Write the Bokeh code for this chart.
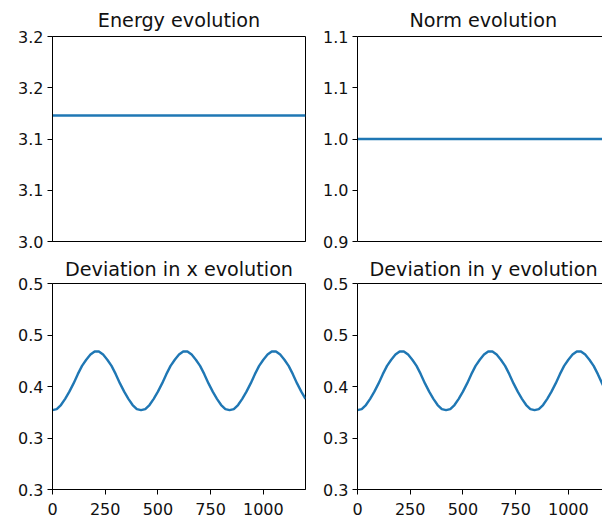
from bokeh.plotting import figure
from bokeh.models import Range1d, FixedTicker, LinearAxis
from bokeh.layouts import row, column
from bokeh.embed import file_html
from bokeh.resources import INLINE

# ---- data ----
energy_time = [0, 1200]
energy = [3.123, 3.123]

norm_time = [0, 1200]
norm = [1.0, 1.0]

time = [0, 20, 40, 60, 80, 100, 120, 140, 160, 180, 200, 220, 240, 260, 280,
        300, 320, 340, 360, 380, 400, 420, 440, 460, 480, 500, 520, 540, 560,
        580, 600, 620, 640, 660, 680, 700, 720, 740, 760, 780, 800, 820, 840,
        860, 880, 900, 920, 940, 960, 980, 1000, 1020, 1040, 1060, 1080, 1100,
        1120, 1140, 1160, 1180, 1200]

dev_x = [0.377, 0.378, 0.382, 0.388, 0.395, 0.403, 0.412, 0.420, 0.426, 0.431,
         0.434, 0.434, 0.431, 0.426, 0.420, 0.412, 0.403, 0.395, 0.388, 0.382,
         0.378,
         0.377, 0.378, 0.382, 0.388, 0.395, 0.403, 0.412, 0.420, 0.426, 0.431,
         0.434, 0.434, 0.431, 0.426, 0.420, 0.412, 0.403, 0.395, 0.388, 0.382,
         0.378,
         0.377, 0.378, 0.382, 0.388, 0.395, 0.403, 0.412, 0.420, 0.426, 0.431,
         0.434, 0.434, 0.431, 0.426, 0.420, 0.412, 0.403, 0.395, 0.388]

dev_y = [0.377, 0.378, 0.382, 0.388, 0.395, 0.403, 0.412, 0.420, 0.426, 0.431,
         0.434, 0.434, 0.431, 0.426, 0.420, 0.412, 0.403, 0.395, 0.388, 0.382,
         0.378,
         0.377, 0.378, 0.382, 0.388, 0.395, 0.403, 0.412, 0.420, 0.426, 0.431,
         0.434, 0.434, 0.431, 0.426, 0.420, 0.412, 0.403, 0.395, 0.388, 0.382,
         0.378,
         0.377, 0.378, 0.382, 0.388, 0.395, 0.403, 0.412, 0.420, 0.426, 0.431,
         0.434, 0.434, 0.431, 0.426, 0.420, 0.412, 0.403, 0.395, 0.388]

x_ticks = [0, 250, 500, 750, 1000]
energy_ticks = [3.0, 3.05, 3.1, 3.15, 3.2]
energy_labels = ["3.0", "3.1", "3.1", "3.2", "3.2"]
norm_ticks = [0.9, 0.95, 1.0, 1.05, 1.1]
norm_labels = ["0.9", "1.0", "1.0", "1.1", "1.1"]
dev_ticks = [0.3, 0.35, 0.4, 0.45, 0.5]
dev_labels = ["0.3", "0.3", "0.4", "0.5", "0.5"]

LINE = "#1f77b4"
FONT = "DejaVu Sans"


def style_axis(ax):
    ax.major_label_text_font = FONT
    ax.major_label_text_font_size = "16px"
    ax.major_label_text_color = "#111111"
    ax.major_tick_out = 5
    ax.major_tick_in = 0
    ax.minor_tick_out = 0
    ax.minor_tick_in = 0
    ax.major_tick_line_color = "black"
    ax.axis_line_color = "black"
    ax.axis_line_width = 1
    ax.major_label_standoff = 4


def make(title, xr, yr, yticks, ylabels, left, top, title_offset):
    p = figure(frame_width=253 if left else 245,
               frame_height=205 if top else 206,
               x_range=Range1d(*xr), y_range=Range1d(*yr),
               output_backend="svg", toolbar_location=None,
               min_border_left=52 if left else 37,
               min_border_right=15 if left else 0,
               min_border_top=36 if top else 32,
               min_border_bottom=10 if top else 30,
               background_fill_color="white", border_fill_color="white")
    p.title.text = title
    p.title.text_font = FONT
    p.title.text_font_size = "19.2px"
    p.title.text_font_style = "normal"
    p.title.text_color = "#111111"
    if left:
        p.title.align = "center"
    else:
        p.title.align = "left"
        p.title.offset = title_offset
    p.title.standoff = 10 if top else 6
    p.xgrid.visible = False
    p.ygrid.visible = False
    for ax in p.xaxis + p.yaxis:
        style_axis(ax)
    p.yaxis.ticker = FixedTicker(ticks=yticks)
    p.yaxis.major_label_overrides = {t: l for t, l in zip(yticks, ylabels)}
    if top:
        p.xaxis.ticker = FixedTicker(ticks=[])
        p.xaxis.major_label_standoff = 0
    else:
        p.xaxis.ticker = FixedTicker(ticks=x_ticks)
        p.xaxis.major_label_standoff = 8
    if left:
        p.outline_line_color = "black"
        p.outline_line_width = 1
        p.outline_line_alpha = 1
    else:
        p.outline_line_color = None
        top_axis = LinearAxis(ticker=FixedTicker(ticks=[]), axis_line_color="black",
                              axis_line_width=1, major_label_standoff=0,
                              major_tick_out=0, major_tick_in=0,
                              minor_tick_out=0, minor_tick_in=0)
        p.add_layout(top_axis, "above")
    return p


p1 = make("Energy evolution", (0, 1200), (3.0, 3.2), energy_ticks, energy_labels, True, True, 0)
p1.line(energy_time, energy, line_color=LINE, line_width=2.4)

p2 = make("Norm evolution", (0, 1162), (0.9, 1.1), norm_ticks, norm_labels, False, True, 52)
p2.line(norm_time, norm, line_color=LINE, line_width=2.4)

p3 = make("Deviation in x evolution", (0, 1200), (0.3, 0.5), dev_ticks, dev_labels, True, False, 0)
p3.line(time, dev_x, line_color=LINE, line_width=2.4)

p4 = make("Deviation in y evolution", (0, 1162), (0.3, 0.5), dev_ticks, dev_labels, False, False, 12)
p4.line(time, dev_y, line_color=LINE, line_width=2.4)

layout = column(row(p1, p2), row(p3, p4))

open("out.html", "w").write(file_html(layout, INLINE))
